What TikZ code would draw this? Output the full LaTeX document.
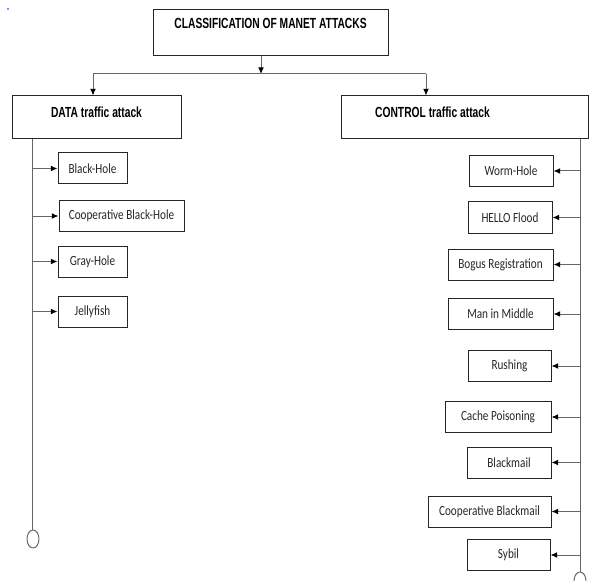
\documentclass[tikz,border=0pt]{standalone}
\usepackage{fontspec}
\newfontfamily\headfont[FakeStretch=0.7]{Liberation Sans}
\newfontfamily\itemfont[FakeStretch=0.8]{Carlito}
\usetikzlibrary{arrows.meta,shapes.geometric}

\tikzset{
  hbox/.style={draw=black!85, line width=0.75pt, inner sep=0pt,
    font=\headfont\bfseries\fontsize{11}{13}\selectfont, text height=8pt, text depth=8.5pt},
  abox/.style={draw=black!85, line width=0.75pt, inner sep=0pt, minimum height=23.25pt,
    font=\itemfont\fontsize{10.5}{12}\selectfont, text=black!85},
  wire/.style={draw=black!60, line width=0.75pt},
  arr/.style={wire, -{Latex[length=5pt,width=4.4pt,color=black]}},
  endmark/.style={ellipse, draw=black!60, line width=0.7pt, inner sep=0pt,
    minimum width=9pt, minimum height=13.5pt}
}

\begin{document}
\begin{tikzpicture}[x=0.75pt,y=-0.75pt]
  \useasboundingbox (0,0) rectangle (596,581);
  \fill[blue!70] (8,9) circle (1);

  % headings
  \node[hbox, minimum width=176.25pt, minimum height=34.5pt, text depth=14pt]
    (cls) at (270.5,33) {CLASSIFICATION OF MANET ATTACKS};
  \node[hbox, minimum width=126.75pt, minimum height=32.25pt]
    (data) at (96.5,117.5) {DATA traffic attack};
  \node[hbox, minimum width=185.25pt, minimum height=32.25pt]
    (ctrl) at (464.5,117.5) {CONTROL traffic attack\hspace*{48pt}};

  \coordinate (split) at (261,74);
  \coordinate (bendL) at (93,74);
  \coordinate (bendR) at (426,74);
  \draw[arr] (split |- cls.south) -- (split);
  \draw[wire] (bendL) -- (bendR);
  \draw[arr] (bendL) -- (bendL |- data.north);
  \draw[arr] (bendR) -- (bendR |- ctrl.north);

  % data traffic attacks
  \node[abox, minimum width=51.75pt] (bh) at (92.5,168.5) {Black-Hole};
  \node[abox, minimum width=93.75pt] (cbh) at (121.5,216) {Cooperative Black-Hole};
  \node[abox, minimum width=51.75pt] (gh) at (92.5,261.5) {Gray-Hole};
  \node[abox, minimum width=51.75pt] (jf) at (92.5,311.5) {Jellyfish};

  \coordinate (dline) at (32,0);
  \node[endmark] (dend) at (33,539) {};
  \draw[wire] (dline |- data.south) -- (dline |- dend.north);
  \draw[arr] (dline |- bh) -- (bh.west);
  \draw[arr] (dline |- cbh) -- (cbh.west);
  \draw[arr] (dline |- gh) -- (gh.west);
  \draw[arr] (dline |- jf) -- (jf.west);

  % control traffic attacks
  \node[abox, minimum width=63pt] (wh) at (511,171) {Worm-Hole};
  \node[abox, minimum width=63pt] (hf) at (510,217.5) {HELLO Flood};
  \node[abox, minimum width=78.75pt] (br) at (500.5,264.5) {Bogus Registration};
  \node[abox, minimum width=78.75pt] (mm) at (500.5,314) {Man in Middle};
  \node[abox, minimum width=62.25pt] (ru) at (509.5,366) {Rushing};
  \node[abox, minimum width=79.5pt] (cp) at (498,417) {Cache Poisoning};
  \node[abox, minimum width=63pt] (bm) at (509,462.5) {Blackmail};
  \node[abox, minimum width=92.25pt] (cbm) at (489.5,511.5) {Cooperative Blackmail};
  \node[abox, minimum width=62.25pt] (sy) at (508.5,555) {Sybil};

  \coordinate (cline) at (580,0);
  \node[endmark] (cend) at (580,581) {};
  \draw[wire] (cline |- ctrl.south) -- (cline |- cend.north);
  \draw[arr] (cline |- wh) -- (wh.east);
  \draw[arr] (cline |- hf) -- (hf.east);
  \draw[arr] (cline |- br) -- (br.east);
  \draw[arr] (cline |- mm) -- (mm.east);
  \draw[arr] (cline |- ru) -- (ru.east);
  \draw[arr] (cline |- cp) -- (cp.east);
  \draw[arr] (cline |- bm) -- (bm.east);
  \draw[arr] (cline |- cbm) -- (cbm.east);
  \draw[arr] (cline |- sy) -- (sy.east);
\end{tikzpicture}
\end{document}
